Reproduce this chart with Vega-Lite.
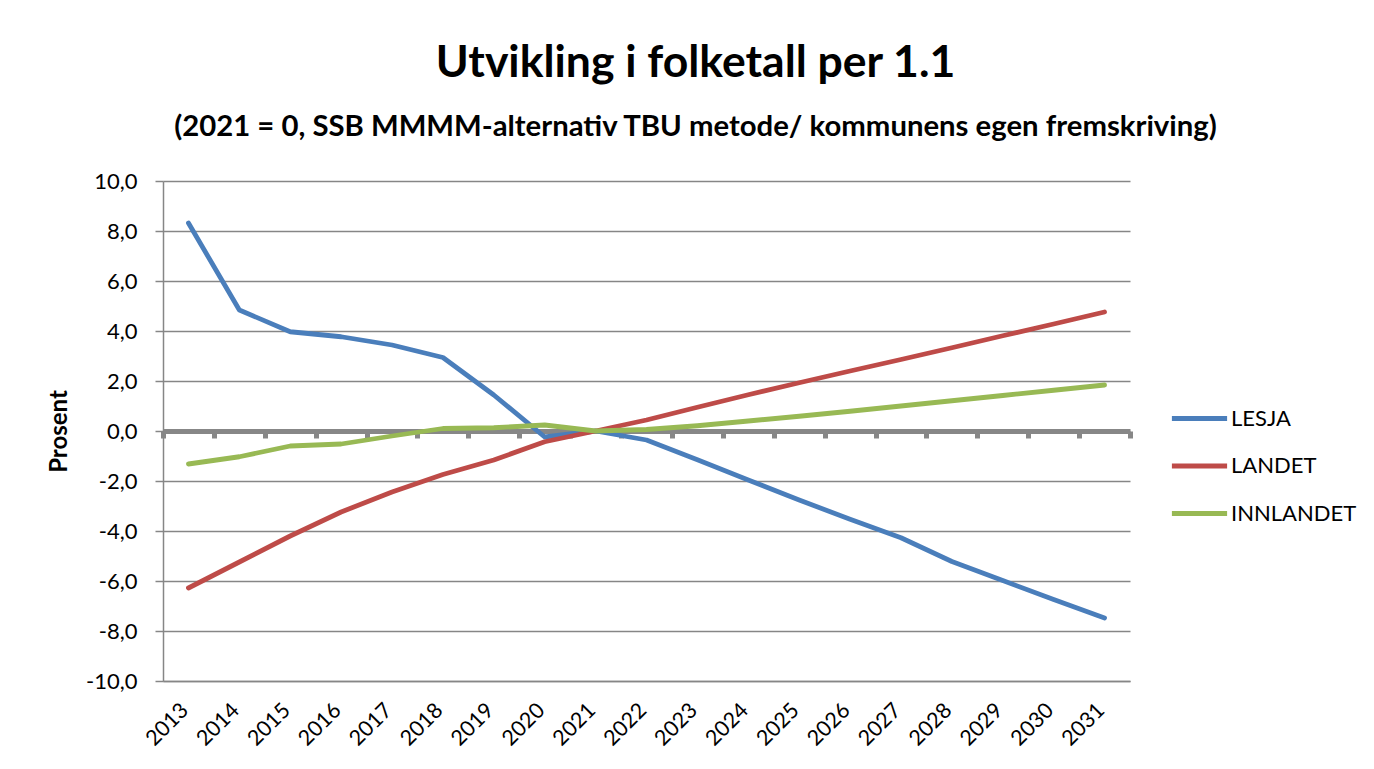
{
  "$schema": "https://vega.github.io/schema/vega-lite/v6.json",
  "autosize": "none",
  "width": 967,
  "height": 500,
  "padding": {"left": 163, "top": 181, "right": 244, "bottom": 88},
  "background": "white",
  "config": {
    "font": "Lato",
    "view": {"stroke": null},
    "locale": {"number": {"decimal": ",", "thousands": " ", "grouping": [3], "currency": ["", " kr"], "minus": "-"}}
  },
  "title": {
    "text": "Utvikling i folketall per 1.1",
    "subtitle": "(2021 = 0, SSB MMMM-alternativ TBU metode/ kommunens egen fremskriving)",
    "anchor": "middle",
    "frame": "group",
    "dx": 49,
    "offset": 27,
    "font": "Lato",
    "fontSize": 44.5,
    "fontWeight": "bold",
    "color": "black",
    "subtitleFont": "Lato",
    "subtitleFontSize": 29.3,
    "subtitleFontWeight": "bold",
    "subtitleColor": "black",
    "subtitlePadding": 26
  },
  "data": {
    "values": [
      {"year": "2013", "series": "LESJA", "value": 8.32},
      {"year": "2014", "series": "LESJA", "value": 4.84},
      {"year": "2015", "series": "LESJA", "value": 3.97},
      {"year": "2016", "series": "LESJA", "value": 3.77},
      {"year": "2017", "series": "LESJA", "value": 3.44},
      {"year": "2018", "series": "LESJA", "value": 2.94},
      {"year": "2019", "series": "LESJA", "value": 1.44},
      {"year": "2020", "series": "LESJA", "value": -0.24},
      {"year": "2021", "series": "LESJA", "value": 0},
      {"year": "2022", "series": "LESJA", "value": -0.36},
      {"year": "2023", "series": "LESJA", "value": -1.15},
      {"year": "2024", "series": "LESJA", "value": -1.96},
      {"year": "2025", "series": "LESJA", "value": -2.76},
      {"year": "2026", "series": "LESJA", "value": -3.53},
      {"year": "2027", "series": "LESJA", "value": -4.27},
      {"year": "2028", "series": "LESJA", "value": -5.22},
      {"year": "2029", "series": "LESJA", "value": -5.98},
      {"year": "2030", "series": "LESJA", "value": -6.74},
      {"year": "2031", "series": "LESJA", "value": -7.48},
      {"year": "2013", "series": "LANDET", "value": -6.28},
      {"year": "2014", "series": "LANDET", "value": -5.24},
      {"year": "2015", "series": "LANDET", "value": -4.2},
      {"year": "2016", "series": "LANDET", "value": -3.24},
      {"year": "2017", "series": "LANDET", "value": -2.44},
      {"year": "2018", "series": "LANDET", "value": -1.74},
      {"year": "2019", "series": "LANDET", "value": -1.16},
      {"year": "2020", "series": "LANDET", "value": -0.43},
      {"year": "2021", "series": "LANDET", "value": 0},
      {"year": "2022", "series": "LANDET", "value": 0.44},
      {"year": "2023", "series": "LANDET", "value": 0.95},
      {"year": "2024", "series": "LANDET", "value": 1.45},
      {"year": "2025", "series": "LANDET", "value": 1.93},
      {"year": "2026", "series": "LANDET", "value": 2.4},
      {"year": "2027", "series": "LANDET", "value": 2.86},
      {"year": "2028", "series": "LANDET", "value": 3.33},
      {"year": "2029", "series": "LANDET", "value": 3.81},
      {"year": "2030", "series": "LANDET", "value": 4.28},
      {"year": "2031", "series": "LANDET", "value": 4.76},
      {"year": "2013", "series": "INNLANDET", "value": -1.32},
      {"year": "2014", "series": "INNLANDET", "value": -1.03},
      {"year": "2015", "series": "INNLANDET", "value": -0.6},
      {"year": "2016", "series": "INNLANDET", "value": -0.52},
      {"year": "2017", "series": "INNLANDET", "value": -0.2},
      {"year": "2018", "series": "INNLANDET", "value": 0.1},
      {"year": "2019", "series": "INNLANDET", "value": 0.13},
      {"year": "2020", "series": "INNLANDET", "value": 0.24},
      {"year": "2021", "series": "INNLANDET", "value": 0},
      {"year": "2022", "series": "INNLANDET", "value": 0.06},
      {"year": "2023", "series": "INNLANDET", "value": 0.21},
      {"year": "2024", "series": "INNLANDET", "value": 0.4},
      {"year": "2025", "series": "INNLANDET", "value": 0.59},
      {"year": "2026", "series": "INNLANDET", "value": 0.79},
      {"year": "2027", "series": "INNLANDET", "value": 1.0},
      {"year": "2028", "series": "INNLANDET", "value": 1.21},
      {"year": "2029", "series": "INNLANDET", "value": 1.42},
      {"year": "2030", "series": "INNLANDET", "value": 1.63},
      {"year": "2031", "series": "INNLANDET", "value": 1.84}
    ]
  },
  "resolve": {"axis": {"x": "independent"}},
  "layer": [
    {
      "mark": {"type": "line", "opacity": 0},
      "encoding": {
        "x": {
          "field": "year", "type": "ordinal",
          "scale": {"type": "band", "paddingInner": 0, "paddingOuter": 0},
          "bandPosition": 0.5,
          "axis": {
            "title": null, "orient": "bottom", "offset": -250,
            "labels": false, "grid": false,
            "domain": true, "domainColor": "#878787", "domainWidth": 5,
            "ticks": true, "tickBand": "extent", "tickSize": 7, "tickWidth": 5, "tickColor": "#878787"
          }
        },
        "y": {"datum": 0, "type": "quantitative"}
      }
    },
    {
      "mark": {"type": "line", "strokeWidth": 4.8, "strokeCap": "round", "strokeJoin": "round"},
      "encoding": {
        "x": {
          "field": "year", "type": "ordinal",
          "scale": {"type": "band", "paddingInner": 0, "paddingOuter": 0},
          "bandPosition": 0.5,
          "axis": {
            "title": null, "orient": "bottom",
            "labelAngle": -45, "labelFontSize": 21.5, "labelColor": "black", "labelFont": "Lato",
            "labelPadding": 26, "labelAlign": "right", "labelBaseline": "middle", "labelOffset": -3,
            "grid": false, "ticks": false,
            "domain": true, "domainColor": "#868686", "domainWidth": 1.5
          }
        },
        "y": {
          "field": "value", "type": "quantitative",
          "scale": {"domain": [-10, 10], "nice": false, "zero": false},
          "axis": {
            "title": "Prosent", "titleFont": "Lato", "titleFontSize": 24, "titleFontWeight": "bold", "titleColor": "black", "titlePadding": 14,
            "values": [-10, -8, -6, -4, -2, 0, 2, 4, 6, 8, 10],
            "format": ".1f",
            "labelFont": "Lato", "labelFontSize": 22, "labelColor": "black", "labelPadding": 18,
            "grid": true, "gridColor": "#868686", "gridWidth": 1.5,
            "domain": true, "domainColor": "#868686", "domainWidth": 1.5,
            "ticks": true, "tickSize": 8, "tickColor": "#868686", "tickWidth": 1.5
          }
        },
        "color": {
          "field": "series", "type": "nominal",
          "scale": {"domain": ["LESJA", "LANDET", "INNLANDET"], "range": ["#4a7ebb", "#be4b48", "#98b954"]},
          "legend": {
            "title": null, "orient": "none", "legendX": 1011, "legendY": 212,
            "symbolType": "M-1.2,0H1.2", "symbolSize": 2116, "symbolStrokeWidth": 5,
            "labelFont": "Lato", "labelFontSize": 22, "labelColor": "black", "labelOffset": 6,
            "rowPadding": 10.5
          }
        }
      }
    }
  ]
}
